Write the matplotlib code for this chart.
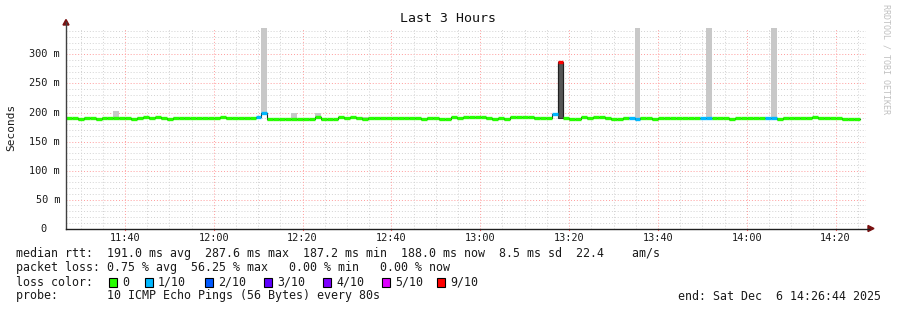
import matplotlib
matplotlib.use("Agg")
import matplotlib.pyplot as plt
from matplotlib.lines import Line2D
from matplotlib.patches import Polygon, Rectangle
from matplotlib.transforms import blended_transform_factory

# ---------------- data ----------------
title = "Last 3 Hours"
start_hm = (11, 26, 44)          # start of graph
step_seconds = 80
x_tick_labels = ["11:40", "12:00", "12:20", "12:40", "13:00", "13:20", "13:40", "14:00", "14:20"]
y_tick_values = [0, 50, 100, 150, 200, 250, 300]
y_tick_labels = ["0", "50 m", "100 m", "150 m", "200 m", "250 m", "300 m"]

median_ms = [190, 190, 188, 191, 191, 188, 190.5, 190.5, 190.5, 190.5,
             190.5, 188, 190.5, 192, 190.5, 192, 190.5, 188, 190.5, 190.5,
             190, 190, 190, 190, 190, 190, 192, 190.5, 190.5, 190.5,
             190.5, 190.5, 191.5, 199, 188, 189, 188, 189.5, 188, 188,
             188, 188, 192.5, 189, 188, 188, 192, 190, 192, 190,
             188, 190.5, 190.5, 190.5, 190.5, 190.5, 190.5, 190.5, 190.5, 190.5,
             188, 190.5, 190.5, 188.5, 188.5, 191.5, 190, 192, 191.5, 191.5,
             191.5, 190, 188, 190, 188, 192, 192, 192, 192, 190.5,
             191, 191, 196.8, 287.6, 191, 188, 188, 192, 190, 192,
             192, 190, 188, 188, 190.5, 191, 188, 190.5, 190, 188,
             190, 190, 190, 190, 190, 190, 190, 190, 190, 190,
             190.5, 190.5, 188, 190, 190, 190, 190, 190, 190.5, 190.5,
             188, 190.5, 190.5, 190.5, 190.5, 190.5, 192, 190, 190, 190,
             190, 188, 188, 188]

loss_tenths = [0] * 134
for _i in (32, 33, 82, 95, 96, 107, 108, 118, 119):
    loss_tenths[_i] = 1
loss_tenths[83] = 9

# smoke (spread of the pings) : upper / lower edge, ms
smoke_hi = [m + 1 for m in median_ms]
smoke_lo = [m - 3 for m in median_ms]
for _i, _v in {8: 202, 20: 193, 28: 193, 31: 193, 33: 400, 38: 199.5, 42: 199.5, 50: 193,
               96: 400, 108: 400, 119: 400, 124: 192.5, 128: 193, 129: 193}.items():
    smoke_hi[_i] = _v
smoke_lo[33] = 197
spike_dark_index = 83
spike_dark_lo, spike_dark_hi = 190, 286

loss_levels = ["0", "1/10", "2/10", "3/10", "4/10", "5/10", "9/10"]
loss_level_tenths = [0, 1, 2, 3, 4, 5, 9]
loss_level_colors = ["#26ff00", "#00b8ff", "#0059ff", "#5e00ff", "#7e00ff", "#dd00ff", "#ff0000"]

legend_rtt = "median rtt:  191.0 ms avg  287.6 ms max  187.2 ms min  188.0 ms now  8.5 ms sd  22.4    am/s"
legend_loss = "packet loss: 0.75 % avg  56.25 % max   0.00 % min   0.00 % now"
legend_probe = "probe:       10 ICMP Echo Pings (56 Bytes) every 80s"
legend_end = "end: Sat Dec  6 14:26:44 2025"
watermark = "RRDTOOL / TOBI OETIKER"

# ---------------- figure ----------------
W, H = 897, 310
fig = plt.figure(figsize=(W / 100, H / 100), dpi=100)
fig.patch.set_facecolor("white")
MONO = "DejaVu Sans Mono"
TXT = "#1a1a1a"
LEG_FS = 8.4

def fx(x):
    return x / W

def fy(y):
    return 1 - y / H

X0, X1 = 66, 865.5
Y0, Y1 = 228.7, 27.7
ax = fig.add_axes([fx(X0), fy(Y0), (X1 - X0) / W, (Y0 - Y1) / H])
ax.axis("off")

start = start_hm[0] * 60 + start_hm[1] + start_hm[2] / 60.0
end = start + 180
step = step_seconds / 60.0
n = len(median_ms)
times = [start + i * step for i in range(n)]
ax.set_xlim(start, end)
ax.set_ylim(0, 346)

# grid
for v in range(10, 346, 10):
    major = v % 50 == 0
    ax.axhline(v, color="#ff9c9c" if major else "#d2d2d2", lw=0.7, ls=(0, (1, 2)), zorder=0)
m = 5 * (int(start) // 5 + 1)
while m < end:
    major = m % 20 == 0
    ax.axvline(m, color="#ff9c9c" if major else "#d2d2d2", lw=0.7, ls=(0, (1, 2)), zorder=0)
    m += 5

# smoke
ax.bar(times, [h - l for h, l in zip(smoke_hi, smoke_lo)], bottom=smoke_lo, width=step,
       align="edge", color="#c8c8c8", lw=0, zorder=1)
ax.bar([times[spike_dark_index]], [spike_dark_hi - spike_dark_lo], bottom=[spike_dark_lo],
       width=step, align="edge", color="#555555", edgecolor="#333333", lw=0.8, zorder=2)

# thin dark median step line
xs, ys = [], []
for t, v in zip(times, median_ms):
    xs += [t, t + step]
    ys += [v, v]
ax.plot(xs, ys, color="#202020", lw=0.8, zorder=3)

# coloured median segments
color_of = dict(zip(loss_level_tenths, loss_level_colors))
for t, v, l in zip(times, median_ms, loss_tenths):
    ax.hlines(v, t, t + step, color=color_of[l], lw=2.4, zorder=4, capstyle="butt")

# axes lines + arrows
fig.add_artist(Line2D([fx(X0), fx(X0)], [fy(Y0), fy(22)], color="#404040", lw=1.0))
fig.add_artist(Line2D([fx(X0), fx(869)], [fy(Y0), fy(Y0)], color="#202020", lw=1.0))
fig.add_artist(Polygon([[fx(63), fy(25)], [fx(69), fy(25)], [fx(66), fy(19.5)]], closed=True,
                       color="#7a1010", transform=fig.transFigure))
fig.add_artist(Polygon([[fx(868), fy(225.5)], [fx(868), fy(231.5)], [fx(874), fy(228.5)]], closed=True,
                       color="#7a1010", transform=fig.transFigure))

# x ticks and labels
tick_min = [int(s[:2]) * 60 + int(s[3:]) for s in x_tick_labels]
for tm, lab in zip(tick_min, x_tick_labels):
    ax.plot([tm, tm], [0, -3], color="#ff6060", lw=0.8, clip_on=False, zorder=5)
    ax.text(tm, -16, lab, ha="center", va="center", fontsize=7.4, family=MONO, color=TXT)

# y tick labels (right aligned; unit column)
ytr = blended_transform_factory(fig.transFigure, ax.transData)
for v, lab in zip(y_tick_values, y_tick_labels):
    if lab.endswith(" m"):
        ax.text(fx(60), v, lab, transform=ytr, ha="right", va="center", fontsize=7.4, family=MONO, color=TXT)
    else:
        ax.text(fx(46), v, lab, transform=ytr, ha="right", va="center", fontsize=7.4, family=MONO, color=TXT)

fig.text(fx(11), fy(127), "Seconds", rotation=90, ha="center", va="center", fontsize=8,
         family=MONO, color=TXT)
fig.text(fx(448), fy(19), title, ha="center", va="center", fontsize=9.5, family=MONO, color="#111111")
fig.text(fx(886), fy(4), watermark, rotation=270, ha="center", va="top", fontsize=6,
         family=MONO, color="#c0c0c0")

# legend
fig.text(fx(16), fy(254), legend_rtt, ha="left", va="center", fontsize=LEG_FS, family=MONO, color=TXT)
fig.text(fx(16), fy(268), legend_loss, ha="left", va="center", fontsize=LEG_FS, family=MONO, color=TXT)
fig.text(fx(16), fy(282), "loss color:", ha="left", va="center", fontsize=LEG_FS, family=MONO, color=TXT)
sq_x = [109, 145, 205, 264, 323, 382, 437]
for x, lab, c in zip(sq_x, loss_levels, loss_level_colors):
    fig.add_artist(Rectangle((fx(x), fy(287)), 8 / W, 9 / H, transform=fig.transFigure,
                             facecolor=c, edgecolor="black", lw=0.8))
    fig.text(fx(x + 13), fy(282), lab, ha="left", va="center", fontsize=LEG_FS, family=MONO, color=TXT)
fig.text(fx(16), fy(296), legend_probe, ha="left", va="center", fontsize=LEG_FS, family=MONO, color=TXT)
fig.text(fx(881), fy(296), legend_end, ha="right", va="center", fontsize=LEG_FS, family=MONO, color=TXT)

fig.savefig("out.png", dpi=100, facecolor="white")
